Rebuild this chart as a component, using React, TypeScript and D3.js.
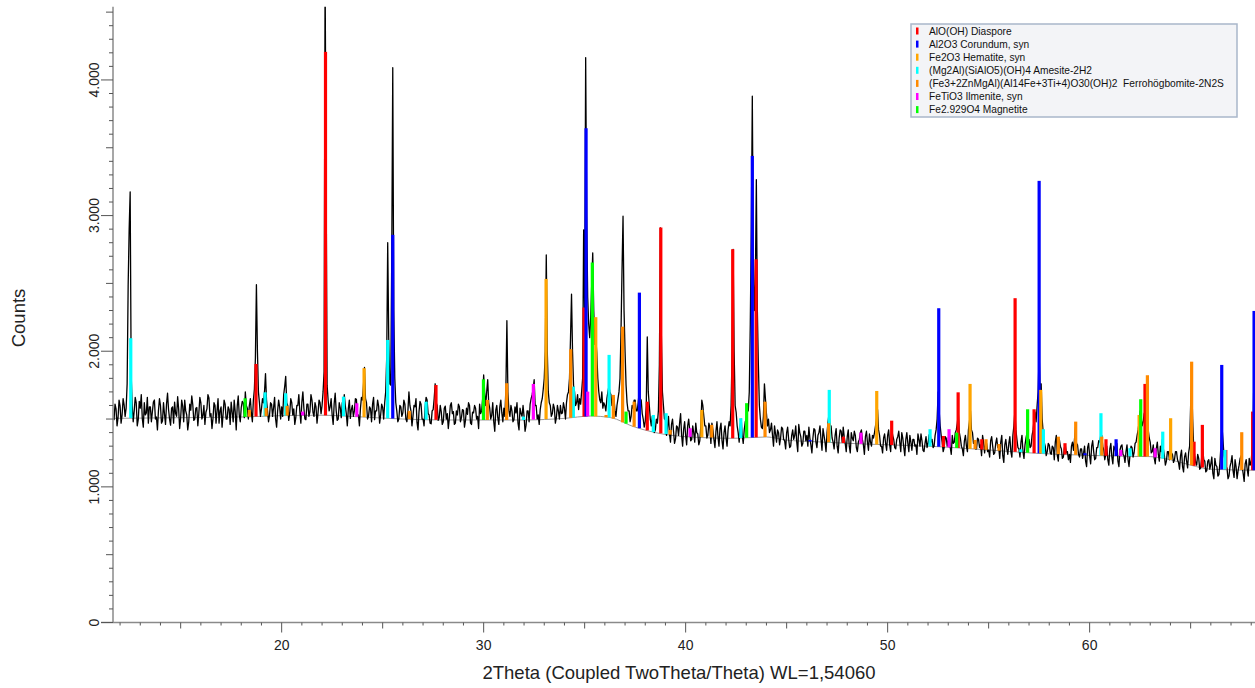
import React from 'react';
import * as d3 from 'd3';

// ---- measured pattern (2Theta start / step, counts) ----
const THETA_START = 11.7;
const THETA_STEP = 0.05;
const counts: number[] = [
  1492, 1610, 1575, 1450, 1510, 1640,
  1598, 1470, 1530, 1650, 1605, 1520, 1580, 1760, 2480, 2900, 3175, 1820, 1600, 1480, 1560, 1660, 1620, 1450, 1495, 1630,
  1580, 1680, 1505, 1440, 1620, 1530, 1545, 1660, 1470, 1590, 1590, 1480, 1555, 1625, 1640, 1500, 1515, 1420, 1560, 1650,
  1600, 1470, 1485, 1620, 1535, 1460, 1610, 1690, 1570, 1500, 1455, 1580, 1590, 1470, 1625, 1540, 1520, 1665, 1575, 1430,
  1510, 1640, 1595, 1480, 1640, 1560, 1530, 1420, 1480, 1610, 1565, 1670, 1605, 1490, 1500, 1580, 1585, 1450, 1545, 1660,
  1620, 1500, 1525, 1600, 1460, 1550, 1575, 1680, 1655, 1520, 1540, 1430, 1505, 1620, 1600, 1470, 1560, 1650, 1470, 1560,
  1590, 1440, 1535, 1640, 1610, 1500, 1500, 1590, 1570, 1460, 1625, 1550, 1480, 1640, 1555, 1420, 1595, 1670, 1530, 1480,
  1585, 1630, 1620, 1510, 1700, 1600, 1580, 1500, 1600, 1650, 1545, 1480, 1640, 1720, 1950, 2490, 2000, 1700, 1620, 1520,
  1575, 1650, 1620, 1700, 1835, 1640, 1560, 1480, 1530, 1620, 1610, 1520, 1585, 1660, 1500, 1440, 1560, 1640, 1590, 1500,
  1590, 1520, 1680, 1740, 1815, 1620, 1600, 1490, 1545, 1650, 1620, 1530, 1575, 1460, 1510, 1600, 1600, 1680, 1555, 1470,
  1625, 1700, 1580, 1500, 1495, 1610, 1610, 1520, 1555, 1680, 1640, 1550, 1520, 1620, 1590, 1470, 1545, 1640, 1620, 1540,
  1600, 1700, 1850, 4800, 3300, 1750, 1640, 1560, 1590, 1650, 1530, 1460, 1615, 1690, 1560, 1490, 1500, 1620, 1585, 1510,
  1620, 1560, 1680, 1600, 1540, 1450, 1575, 1640, 1505, 1570, 1600, 1520, 1560, 1650, 1645, 1530, 1530, 1450, 1580, 1660,
  1640, 1750, 1880, 1650, 1620, 1500, 1520, 1590, 1575, 1480, 1610, 1660, 1495, 1560, 1560, 1640, 1595, 1470, 1530, 1610,
  1585, 1500, 1620, 1700, 1950, 2800, 2100, 1760, 1750, 2700, 4090, 2300, 1800, 1620, 1560, 1480, 1500, 1600, 1590, 1520,
  1545, 1640, 1610, 1500, 1480, 1560, 1700, 1600, 1560, 1450, 1520, 1600, 1590, 1650, 1475, 1420, 1555, 1630, 1610, 1500,
  1500, 1450, 1585, 1660, 1640, 1540, 1530, 1470, 1465, 1560, 1570, 1650, 1760, 1620, 1600, 1490, 1510, 1600, 1555, 1460,
  1480, 1580, 1595, 1500, 1540, 1430, 1505, 1600, 1620, 1540, 1555, 1460, 1470, 1560, 1530, 1610, 1590, 1480, 1510, 1570,
  1565, 1440, 1490, 1580, 1535, 1620, 1600, 1470, 1460, 1550, 1545, 1600, 1580, 1500, 1520, 1430, 1610, 1540, 1560, 1650,
  1825, 1700, 1600, 1700, 1790, 1620, 1580, 1500, 1530, 1620, 1480, 1410, 1565, 1600, 1510, 1460, 1590, 1640, 1545, 1480,
  1580, 1520, 1720, 2225, 1700, 1560, 1520, 1600, 1560, 1480, 1495, 1590, 1545, 1620, 1470, 1420, 1580, 1540, 1520, 1600,
  1520, 1410, 1455, 1560, 1560, 1480, 1610, 1650, 1680, 1720, 1790, 1600, 1600, 1500, 1530, 1460, 1570, 1620, 1650, 1720,
  1800, 2000, 2710, 2000, 1700, 1620, 1600, 1520, 1540, 1610, 1580, 1470, 1510, 1600, 1560, 1500, 1600, 1540, 1545, 1620,
  1580, 1500, 1620, 1680, 1700, 1800, 2100, 2420, 2000, 1750, 1700, 1600, 1620, 1680, 1570, 1650, 1610, 1700, 1800, 2895,
  2300, 4165, 3000, 2400, 2200, 2100, 2250, 2500, 2725, 2300, 2050, 2100, 1990, 1800, 1700, 1640, 1620, 1700, 1580, 1620,
  1600, 1560, 1650, 1700, 1740, 1700, 1680, 1600, 1620, 1660, 1560, 1520, 1600, 1650, 1700, 1800, 2150, 2600, 2995, 2300,
  2000, 1750, 1620, 1560, 1560, 1480, 1520, 1600, 1580, 1640, 1640, 1560, 1560, 1620, 1700, 1650, 1640, 1540, 1500, 1440,
  1480, 1600, 2105, 1700, 1600, 1500, 1450, 1520, 1500, 1400, 1420, 1500, 1470, 1560, 1900, 2910, 2100, 1700, 1600, 1500,
  1500, 1380, 1440, 1520, 1390, 1330, 1460, 1500, 1410, 1320, 1355, 1450, 1440, 1380, 1470, 1540, 1380, 1300, 1425, 1480,
  1380, 1310, 1450, 1500, 1420, 1340, 1350, 1450, 1400, 1330, 1470, 1400, 1390, 1310, 1340, 1450, 1640, 1600, 1520, 1450,
  1450, 1360, 1380, 1470, 1440, 1320, 1470, 1420, 1350, 1290, 1410, 1480, 1370, 1300, 1430, 1470, 1340, 1280, 1400, 1450,
  1360, 1300, 1420, 1480, 1450, 1600, 2000, 2750, 2000, 1600, 1550, 1450, 1400, 1330, 1450, 1500, 1380, 1320, 1420, 1480,
  1500, 1600, 1560, 1700, 2200, 2900, 3880, 2700, 2300, 2500, 3265, 2300, 1900, 1600, 1500, 1440, 1430, 1520, 1760, 1650,
  1540, 1450, 1500, 1400, 1420, 1470, 1380, 1300, 1450, 1390, 1330, 1420, 1400, 1310, 1360, 1440, 1430, 1350, 1340, 1280,
  1400, 1440, 1350, 1290, 1300, 1380, 1420, 1350, 1380, 1450, 1330, 1260, 1460, 1400, 1370, 1300, 1320, 1410, 1410, 1340,
  1380, 1300, 1440, 1360, 1310, 1250, 1360, 1430, 1420, 1330, 1290, 1380, 1400, 1450, 1350, 1270, 1430, 1380, 1330, 1260,
  1400, 1480, 1540, 1450, 1450, 1360, 1330, 1280, 1380, 1430, 1300, 1250, 1360, 1420, 1410, 1330, 1440, 1370, 1320, 1260,
  1370, 1420, 1300, 1250, 1400, 1360, 1340, 1410, 1380, 1290, 1260, 1330, 1350, 1400, 1420, 1350, 1310, 1240, 1370, 1410,
  1330, 1270, 1390, 1330, 1300, 1380, 1360, 1400, 1450, 1500, 1570, 1420, 1380, 1300, 1300, 1250, 1360, 1390, 1320, 1270,
  1380, 1420, 1310, 1260, 1430, 1380, 1350, 1290, 1280, 1350, 1370, 1410, 1330, 1260, 1400, 1360, 1290, 1230, 1350, 1400,
  1320, 1260, 1380, 1330, 1270, 1350, 1350, 1300, 1310, 1240, 1390, 1350, 1300, 1390, 1340, 1270, 1260, 1320, 1370, 1290,
  1320, 1380, 1400, 1330, 1350, 1290, 1300, 1380, 1420, 1500, 1700, 1560, 1450, 1380, 1330, 1260, 1290, 1370, 1360, 1300,
  1350, 1410, 1290, 1240, 1380, 1320, 1330, 1400, 1420, 1470, 1540, 1400, 1360, 1300, 1280, 1230, 1340, 1380, 1300, 1260,
  1420, 1480, 1560, 1420, 1400, 1320, 1340, 1280, 1280, 1360, 1350, 1290, 1310, 1230, 1380, 1330, 1250, 1320, 1320, 1260,
  1270, 1220, 1340, 1370, 1300, 1240, 1250, 1320, 1360, 1290, 1290, 1210, 1330, 1380, 1230, 1180, 1310, 1350, 1280, 1240,
  1320, 1370, 1260, 1220, 1380, 1450, 1560, 1420, 1350, 1290, 1280, 1220, 1330, 1380, 1260, 1210, 1310, 1360, 1400, 1330,
  1350, 1290, 1300, 1380, 1420, 1500, 1550, 1480, 1600, 1700, 1985, 1700, 1760, 1500, 1400, 1330, 1300, 1230, 1260, 1320,
  1310, 1250, 1240, 1300, 1290, 1200, 1330, 1380, 1230, 1190, 1350, 1300, 1280, 1210, 1220, 1290, 1300, 1250, 1260, 1200,
  1240, 1180, 1300, 1330, 1270, 1350, 1440, 1320, 1310, 1240, 1220, 1280, 1280, 1210, 1250, 1300, 1190, 1150, 1290, 1320,
  1230, 1170, 1300, 1340, 1260, 1200, 1210, 1290, 1290, 1340, 1330, 1380, 1380, 1300, 1270, 1200, 1240, 1300, 1200, 1160,
  1280, 1320, 1220, 1170, 1300, 1280, 1250, 1320, 1190, 1150, 1270, 1300, 1310, 1240, 1230, 1180, 1260, 1310, 1200, 1150,
  1240, 1300, 1290, 1220, 1250, 1320, 1330, 1380, 1420, 1480, 1560, 1500, 1450, 1480, 1540, 1560, 1600, 1520, 1420, 1360,
  1330, 1250, 1260, 1310, 1210, 1170, 1280, 1330, 1240, 1190, 1300, 1260, 1350, 1280, 1230, 1160, 1190, 1260, 1260, 1200,
  1310, 1250, 1240, 1180, 1200, 1260, 1260, 1200, 1180, 1130, 1230, 1270, 1150, 1110, 1220, 1250, 1190, 1140, 1250, 1300,
  1600, 1790, 1500, 1300, 1230, 1180, 1160, 1240, 1210, 1130, 1140, 1220, 1280, 1200, 1190, 1110, 1120, 1190, 1200, 1130,
  1170, 1220, 1100, 1060, 1210, 1160, 1150, 1080, 1090, 1180, 1300, 1450, 1350, 1230, 1200, 1140, 1140, 1060, 1080, 1150,
  1180, 1230, 1120, 1070, 1200, 1150, 1060, 1120, 1160, 1210, 1230, 1150, 1100, 1040, 1170, 1200, 1130, 1080, 1210, 1160,
  1190, 1300, 1500, 2035, 1600, 1300, 1180, 1200,
];

// ---- fitted background ----
const bgTheta = [11.65, 15, 18, 20, 22, 24, 26, 28, 32, 34, 35.3, 36.3, 37.4, 38.5, 40, 42.4, 44, 45, 46.4, 49, 52.4, 55, 57.3, 60, 62, 63, 64, 65, 66, 68.35];
const bgCounts = [1505, 1510, 1515, 1525, 1528, 1515, 1500, 1493, 1493, 1505, 1522, 1510, 1445, 1400, 1370, 1358, 1368, 1345, 1333, 1315, 1297, 1272, 1248, 1232, 1225, 1223, 1200, 1160, 1130, 1122];

// ---- reference phase sticks [2Theta, counts] ----
const diaspore = [[18.73, 1906], [22.17, 4207], [27.64, 1751], [34.97, 2322], [38.1, 1628], [38.77, 2912], [42.33, 2752], [43.49, 2678], [47.81, 1370], [50.2, 1488], [52.76, 1375], [53.49, 1697], [54.66, 1351], [56.31, 2391], [57.25, 1572], [58.78, 1322], [60.81, 1351], [62.74, 1759], [65.17, 1333], [65.58, 1457], [66.74, 1272], [68.07, 1555]];
const corundum = [[25.5, 2858], [35.07, 3644], [37.71, 2432], [43.3, 3440], [46.16, 1346], [52.53, 2317], [57.5, 3256], [59.77, 1248], [61.31, 1351], [66.54, 1899], [68.14, 2297]];
const hematite = [[24.08, 1875], [33.09, 2533], [35.55, 2251], [40.8, 1567], [49.46, 1707], [54.08, 1759], [57.58, 1715], [62.45, 1530], [64.01, 1506]];
const amesite = [[12.53, 2096], [19.18, 1697], [20.2, 1690], [23.06, 1665], [25.25, 2083], [27.15, 1628], [31.97, 1518], [33.78, 1493], [34.44, 1739], [36.21, 1973], [38.4, 1530], [39.03, 1543], [42.73, 1506], [47.11, 1715], [51.36, 1272], [52.1, 1425], [56.59, 1277], [57.71, 1425], [60.56, 1543], [62.0, 1285], [63.62, 1407], [66.7, 1272]];
const hoegbomite = [[18.4, 1567], [19.23, 1582], [20.27, 1597], [26.32, 1560], [30.18, 1641], [31.14, 1764], [34.31, 2015], [36.06, 1530], [36.42, 1678], [36.88, 2181], [37.45, 1628], [39.23, 1420], [41.29, 1457], [43.93, 1628], [47.08, 1469], [54.33, 1346], [54.87, 1351], [55.51, 1316], [58.45, 1370], [59.31, 1481], [60.6, 1370], [62.86, 1823], [65.05, 1923], [67.53, 1403]];
const ilmenite = [[21.04, 1555], [23.72, 1616], [32.46, 1759], [35.15, 1702], [40.22, 1432], [48.68, 1400], [53.04, 1425], [56.17, 1260], [61.54, 1272], [63.24, 1285]];
const magnetite = [[18.19, 1653], [29.99, 1793], [35.38, 2654], [37.05, 1555], [43.02, 1617], [53.42, 1400], [56.93, 1572], [62.53, 1646]];

const phaseNames = [
  'AlO(OH) Diaspore',
  'Al2O3 Corundum, syn',
  'Fe2O3 Hematite, syn',
  '(Mg2Al)(SiAlO5)(OH)4 Amesite-2H2',
  '(Fe3+2ZnMgAl)(Al14Fe+3Ti+4)O30(OH)2  Ferrohögbomite-2N2S',
  'FeTiO3 Ilmenite, syn',
  'Fe2.929O4 Magnetite',
];
const phaseSticks = [diaspore, corundum, hematite, amesite, hoegbomite, ilmenite, magnetite];
const phaseColors = ['#ff0000', '#0000ff', '#ffa500', '#00ffff', '#ff8a00', '#ff00ff', '#00ff00'];

const xTicks = d3.range(12, 69, 1);
const xLabels = [20, 30, 40, 50, 60];
const yTicks = d3.range(0, 4501, 100);
const yLabels = [0, 1000, 2000, 3000, 4000];

const FONT = '"Liberation Sans", Arial, sans-serif';

export default function App() {
  const W = 1255, H = 688;
  const x = d3.scaleLinear().domain([11.65, 68.35]).range([113, 1258.3]);
  const y = d3.scaleLinear().domain([0, 4540]).range([622.5, 6.7]);
  const bgAt = d3.scaleLinear().domain(bgTheta).range(bgCounts);

  const pts: [number, number][] = counts.map((c, i) => [THETA_START + i * THETA_STEP, c]);
  const dataLine = d3.line<[number, number]>().x(d => x(d[0])).y(d => y(d[1]));
  const bgPts: [number, number][] = bgTheta.map((t, i) => [t, bgCounts[i]]);
  const bgLine = d3.line<[number, number]>().x(d => x(d[0])).y(d => y(d[1])).curve(d3.curveMonotoneX);

  const fmt = (v: number) => d3.format(',')(v).replace(/,/g, '.');
  const x0 = x.range()[0];
  const yb = y(0);
  const yt = y.range()[1];

  return (
    <svg width={W} height={H} style={{ position: 'absolute', left: 0, top: 0, display: 'block', background: '#fff' }}>
      <defs>
        <clipPath id="plotclip">
          <rect x={x0} y={yt} width={W - x0} height={yb - yt} />
        </clipPath>
      </defs>
      <g clipPath="url(#plotclip)">
        <path d={bgLine(bgPts) || ''} fill="none" stroke="#9a9a9a" strokeWidth={1} />
        <path d={dataLine(pts) || ''} fill="none" stroke="#000" strokeWidth={1.3} strokeLinejoin="round" />
        {phaseSticks.map((sticks, pi) => (
          <g key={pi}>
            {sticks.map(([t, c], i) => {
              const base = y(bgAt(t));
              const top = y(c);
              return <rect key={i} x={x(t) - 1.6} y={top} width={3.2} height={Math.max(0, base - top)} fill={phaseColors[pi]} />;
            })}
          </g>
        ))}
      </g>

      {/* axes */}
      <line x1={x0} y1={yt} x2={x0} y2={yb} stroke="#8a8a8a" strokeWidth={1.5} />
      <line x1={x0 - 12} y1={yb} x2={W} y2={yb} stroke="#8a8a8a" strokeWidth={1.5} />
      {yTicks.map(v => {
        const len = v % 1000 === 0 ? 12 : v % 500 === 0 ? 7 : 4;
        return <line key={v} x1={x0 - len} x2={x0} y1={y(v)} y2={y(v)} stroke="#555" strokeWidth={1} />;
      })}
      {xTicks.map(v => {
        const len = v % 10 === 0 ? 10 : v % 5 === 0 ? 6 : 3;
        return <line key={v} x1={x(v)} x2={x(v)} y1={yb} y2={yb + len} stroke="#555" strokeWidth={1} />;
      })}
      {yLabels.map(v => (
        <text key={v} transform={`translate(98.5,${y(v)}) rotate(-90)`} textAnchor="middle" fontFamily={FONT} fontSize={14} fill="#222">{fmt(v)}</text>
      ))}
      {xLabels.map(v => (
        <text key={v} x={x(v)} y={650} textAnchor="middle" fontFamily={FONT} fontSize={14} fill="#222">{v}</text>
      ))}
      <text x={679} y={679} textAnchor="middle" fontFamily={FONT} fontSize={18.5} fill="#222">2Theta (Coupled TwoTheta/Theta) WL=1,54060</text>
      <text transform="translate(25,318) rotate(-90)" textAnchor="middle" fontFamily={FONT} fontSize={18.5} fill="#222">Counts</text>

      {/* legend */}
      <rect x={911} y={24} width={326} height={93} fill="#f3f4f7" stroke="#a9b7ca" strokeWidth={1.5} />
      {phaseNames.map((n, i) => {
        const ry = 31 + i * 13.1;
        return (
          <g key={n}>
            <rect x={916} y={ry - 3.5} width={2.5} height={7} fill={phaseColors[i]} />
            <text x={929} y={ry + 3.6} fontFamily={FONT} fontSize={10.2} fill="#111" xmlSpace="preserve" style={{ whiteSpace: 'pre' }}>{n}</text>
          </g>
        );
      })}
    </svg>
  );
}
